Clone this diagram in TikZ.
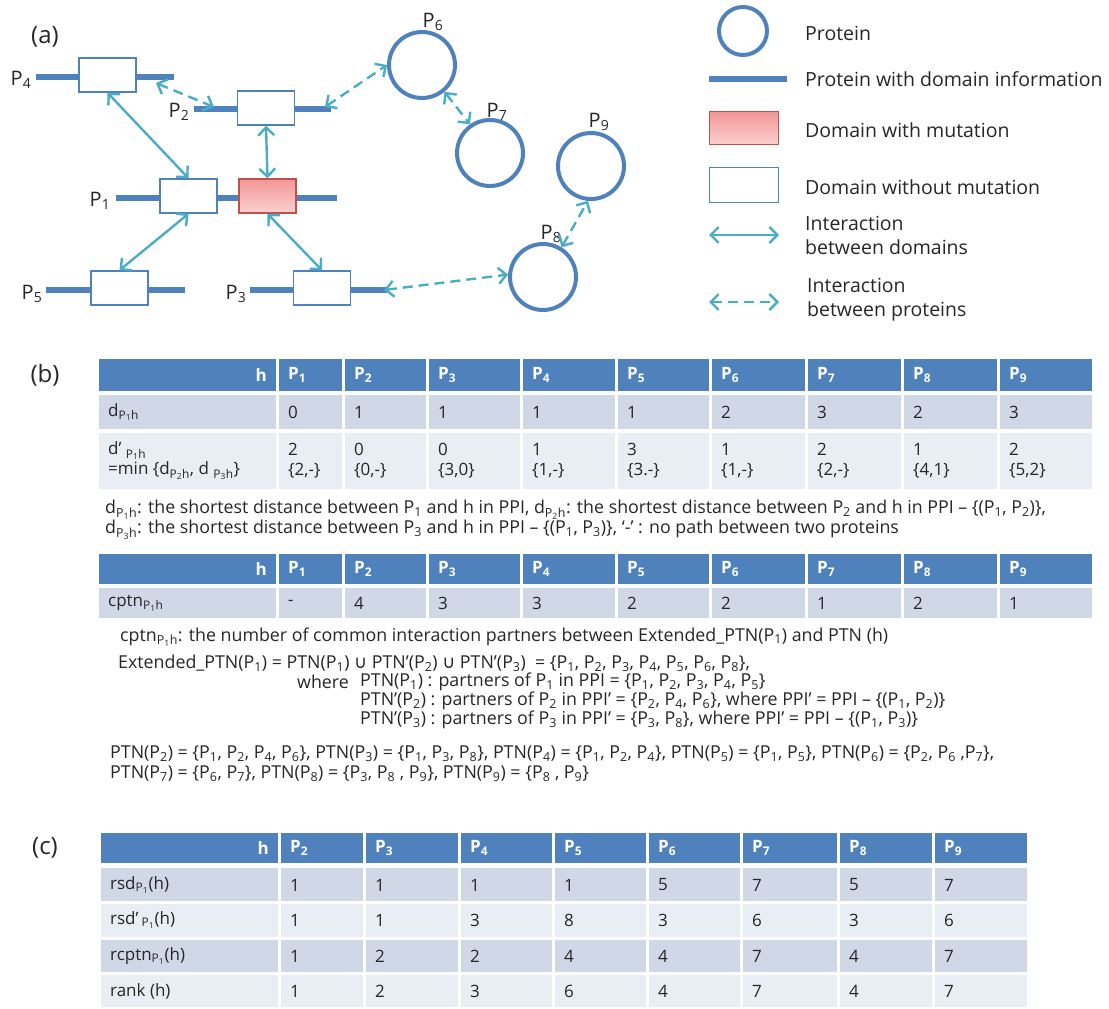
\documentclass[tikz,border=0pt]{standalone}
\usepackage{fontspec}
\setmainfont{Open Sans}
\newfontfamily\symfont{DejaVu Sans}
\usetikzlibrary{arrows.meta,positioning}
\definecolor{hdrblue}{RGB}{79,129,189}
\definecolor{rowdark}{RGB}{208,216,232}
\definecolor{rowlight}{RGB}{233,237,244}
\definecolor{linkteal}{RGB}{75,172,198}
\definecolor{mutred}{RGB}{192,80,77}
\definecolor{txt}{RGB}{38,38,38}
\newcommand{\Pn}[1]{P\textsubscript{#1}}
\newcommand{\cupsym}{{\symfont ∪}}
\tikzset{
  protein/.style={circle, draw=hdrblue, line width=4pt, minimum size=66pt, inner sep=0pt},
  backbone/.style={draw=hdrblue, line width=6pt},
  domainbox/.style={rectangle, draw=hdrblue, line width=1.5pt, fill=white, minimum width=57pt, minimum height=34pt, inner sep=0pt},
  mutbox/.style={domainbox, draw=mutred, top color={rgb,255:red,242;green,150;blue,150}, bottom color={rgb,255:red,251;green,208;blue,208}},
  ddi/.style={draw=linkteal, line width=2.4pt, {Straight Barb[length=8pt,width=16pt]}-{Straight Barb[length=8pt,width=16pt]}},
  ppi/.style={ddi, dash pattern=on 10pt off 6pt},
  plabel/.style={font=\fontsize{20}{24}\selectfont, text=txt, inner sep=0pt},
  panel/.style={font=\fontsize{24}{28}\selectfont, text=txt, inner sep=0pt},
  legtext/.style={anchor=west, align=left, font=\fontsize{19.5}{24}\selectfont, text=txt, inner sep=0pt},
  note/.style={anchor=west, font=\fontsize{17.8}{21}\selectfont, text=txt, inner sep=0pt},
  cell/.style={anchor=west, align=left, font=\fontsize{17}{20}\selectfont, text=txt, inner sep=0pt},
  hcell/.style={cell, text=white, font=\fontsize{17}{20}\selectfont\bfseries},
}
\begin{document}
\begin{tikzpicture}[x=1pt, y=-1pt]
\useasboundingbox (0,0) rectangle (1109,1009);

% (a) network
\node[panel] (pa) at (45,37) {(a)};
\draw[backbone] (36,77) -- (174,77);
\draw[backbone] (194,109) -- (331,109);
\draw[backbone] (116,198) -- (337,198);
\draw[backbone] (46,290) -- (185,290);
\draw[backbone] (250,290) -- (387,290);
\node[domainbox] (p4d) at (107.5,75) {};
\node[domainbox] (p2d) at (266,108) {};
\node[domainbox] (p1d) at (188.5,196) {};
\node[mutbox] (p1m) at (267.5,196) {};
\node[domainbox] (p5d) at (119.5,288) {};
\node[domainbox] (p3d) at (322,288) {};
\node[protein] (p6) at (422,65) {};
\node[protein] (p7) at (490,153) {};
\node[protein] (p8) at (543,277) {};
\node[protein] (p9) at (591,166) {};
\node[plabel] (lp4) at (21,80) {\Pn{4}};
\node[plabel] (lp2) at (179,112) {\Pn{2}};
\node[plabel] (lp1) at (100,201) {\Pn{1}};
\node[plabel] (lp5) at (32,294) {\Pn{5}};
\node[plabel] (lp3) at (236,294) {\Pn{3}};
\node[plabel] (lp6) at (433,22) {\Pn{6}};
\node[plabel] (lp7) at (497,112) {\Pn{7}};
\node[plabel] (lp8) at (551,234) {\Pn{8}};
\node[plabel] (lp9) at (599,122) {\Pn{9}};

\draw[ddi] (p4d.south) -- (p1d.north);
\draw[ddi] (p2d.south) -- (p1m.north);
\draw[ddi] (p1d.south) -- (p5d.north);
\draw[ddi] (p1m.south) -- (p3d.north);
\coordinate (p4tip) at (156,83);
\coordinate (p2tip) at (214,107);
\coordinate (p2end) at (325,107);
\coordinate (p3end) at (384,290);
\draw[ppi] (p4tip) -- (p2tip);
\draw[ppi] (p2end) -- (p6.west);
\draw[ppi] (p6.-50) -- (p7.125);
\draw[ppi] (p3end) -- (p8.176);
\draw[ppi] (p8.58) -- (p9.-95);

% legend
\node[protein, minimum size=48pt] (lgprot) at (743,31) {};
\node[legtext] (lgprott) at (805,33) {Protein};
\coordinate (lgl1) at (709,79);
\coordinate (lgl2) at (787,79);
\draw[backbone] (lgl1) -- (lgl2);
\node[legtext] (lgbbt) at (805,79) {Protein with domain information};
\node[mutbox, minimum width=69pt, minimum height=33pt] (lgmut) at (744,128) {};
\node[legtext] (lgmutt) at (805,130) {Domain with mutation};
\node[domainbox, minimum width=69pt, minimum height=35pt] (lgdom) at (744,185) {};
\node[legtext] (lgdomt) at (805,187) {Domain without mutation};
\coordinate (lga1) at (709,235);
\coordinate (lga2) at (779,235);
\draw[ddi] (lga1) -- (lga2);
\node[legtext] (lgddit) at (805,235) {Interaction\\between domains};
\coordinate (lgb1) at (709,302);
\coordinate (lgb2) at (779,302);
\draw[ppi] (lgb1) -- (lgb2);
\node[legtext] (lgppit) at (807,300) {Interaction\\between proteins};

% (b) tables
\node[panel] (pb) at (45,375) {(b)};
\foreach \xa/\xb in {97/277,277/343,343/427,427/521,521/616,616/710,710/806,806/902,902/998,998/1093}{
  \fill[hdrblue] (\xa+1.5,359) rectangle (\xb-1.5,391);
  \fill[rowdark] (\xa+1.5,395) rectangle (\xb-1.5,429);
  \fill[rowlight] (\xa+1.5,433) rectangle (\xb-1.5,489);
  \fill[hdrblue] (\xa+1.5,554) rectangle (\xb-1.5,584);
  \fill[rowdark] (\xa+1.5,588) rectangle (\xb-1.5,618);
}
\node[hcell, anchor=east] (bh0) at (267,375) {h};
\node[cell] (bd0) at (108,412) {d\textsubscript{P\textsubscript{1}h}};
\node[cell] (be0) at (108,461) {d’ \textsubscript{P\textsubscript{1}h}\\=min \{d\textsubscript{P\textsubscript{2}h}, d \textsubscript{P\textsubscript{3}h}\}};
\foreach \x/\va/\vb/\vc [count=\i] in {277/0/2/{2,-},343/1/0/{0,-},427/1/0/{3,0},521/1/1/{1,-},616/1/3/{3.-},710/2/1/{1,-},806/3/2/{2,-},902/2/1/{4,1},998/3/2/{5,2}}{
  \node[hcell] (bh\i) at (\x+11,375) {\Pn{\i}};
  \node[cell] (bd\i) at (\x+11,412) {\va};
  \node[cell] (be\i) at (\x+11,461) {\vb\\\{\vc\}};
}
\node[note] (n1) at (105,510) {d\textsubscript{P\textsubscript{1}h}: the shortest distance between \Pn{1} and h in PPI, d\textsubscript{P\textsubscript{2}h}: the shortest distance between \Pn{2} and h in PPI – \{(\Pn{1}, \Pn{2})\},};
\node[note] (n2) at (105,530) {d\textsubscript{P\textsubscript{3}h}: the shortest distance between \Pn{3} and h in PPI – \{(\Pn{1}, \Pn{3})\}, ‘-’ : no path between two proteins};

\node[hcell, anchor=east] (ch0) at (267,569) {h};
\node[cell] (cc0) at (108,603) {cptn\textsubscript{P\textsubscript{1}h}};
\foreach \x/\va [count=\i] in {277/-,343/4,427/3,521/3,616/2,710/2,806/1,902/2,998/1}{
  \node[hcell] (ch\i) at (\x+11,569) {\Pn{\i}};
  \node[cell] (cc\i) at (\x+11,603) {\va};
}
\node[note] (n3) at (120,637) {cptn\textsubscript{P\textsubscript{1}h}: the number of common interaction partners between Extended\_PTN(\Pn{1}) and PTN (h)};
\node[note] (n4) at (118,663) {Extended\_PTN(\Pn{1}) = PTN(\Pn{1}) \cupsym\ PTN’(\Pn{2}) \cupsym\ PTN’(\Pn{3})~ = \{\Pn{1}, \Pn{2}, \Pn{3}, \Pn{4}, \Pn{5}, \Pn{6}, \Pn{8}\},};
\node[note] (n5) at (297,682) {where};
\node[note] (n6) at (360,682) {PTN(\Pn{1}) : partners of \Pn{1} in PPI = \{\Pn{1}, \Pn{2}, \Pn{3}, \Pn{4}, \Pn{5}\}};
\node[note] (n7) at (360,701) {PTN’(\Pn{2}) : partners of \Pn{2} in PPI’ = \{\Pn{2}, \Pn{4}, \Pn{6}\}, where PPI’ = PPI – \{(\Pn{1}, \Pn{2})\}};
\node[note] (n8) at (360,720) {PTN’(\Pn{3}) : partners of \Pn{3} in PPI’ = \{\Pn{3}, \Pn{8}\}, where PPI’ = PPI – \{(\Pn{1}, \Pn{3})\}};
\node[note] (n9) at (110,754) {PTN(\Pn{2}) = \{\Pn{1}, \Pn{2}, \Pn{4}, \Pn{6}\}, PTN(\Pn{3}) = \{\Pn{1}, \Pn{3}, \Pn{8}\}, PTN(\Pn{4}) = \{\Pn{1}, \Pn{2}, \Pn{4}\}, PTN(\Pn{5}) = \{\Pn{1}, \Pn{5}\}, PTN(\Pn{6}) = \{\Pn{2}, \Pn{6} ,\Pn{7}\},};
\node[note] (n10) at (110,774) {PTN(\Pn{7}) = \{\Pn{6}, \Pn{7}\}, PTN(\Pn{8}) = \{\Pn{3}, \Pn{8} , \Pn{9}\}, PTN(\Pn{9}) = \{\Pn{8} , \Pn{9}\}};

% (c) ranking table
\node[panel] (pc) at (45,848) {(c)};
\foreach \xa/\xb in {99/279,279/364,364/459,459/553,553/647,647/741,741/838,838/933,933/1028}{
  \fill[hdrblue] (\xa+1.5,833) rectangle (\xb-1.5,863);
  \fill[rowdark] (\xa+1.5,868) rectangle (\xb-1.5,901);
  \fill[rowlight] (\xa+1.5,904) rectangle (\xb-1.5,937);
  \fill[rowdark] (\xa+1.5,940) rectangle (\xb-1.5,972);
  \fill[rowlight] (\xa+1.5,975) rectangle (\xb-1.5,1007);
}
\node[hcell, anchor=east] (rh0) at (269,848) {h};
\node[cell] (ra0) at (110,885) {rsd\textsubscript{P\textsubscript{1}}(h)};
\node[cell] (rb0) at (110,920) {rsd’\textsubscript{ P\textsubscript{1}}(h)};
\node[cell] (rc0) at (110,956) {rcptn\textsubscript{P\textsubscript{1}}(h)};
\node[cell] (rd0) at (110,991) {rank (h)};
\foreach \x/\va/\vb/\vc/\vd [count=\i from 2] in {279/1/1/1/1,364/1/1/2/2,459/1/3/2/3,553/1/8/4/6,647/5/3/4/4,741/7/6/7/7,838/5/3/4/4,933/7/6/7/7}{
  \node[hcell] (rh\i) at (\x+11,848) {\Pn{\i}};
  \node[cell] (ra\i) at (\x+11,885) {\va};
  \node[cell] (rb\i) at (\x+11,920) {\vb};
  \node[cell] (rc\i) at (\x+11,956) {\vc};
  \node[cell] (rd\i) at (\x+11,991) {\vd};
}
\end{tikzpicture}
\end{document}
